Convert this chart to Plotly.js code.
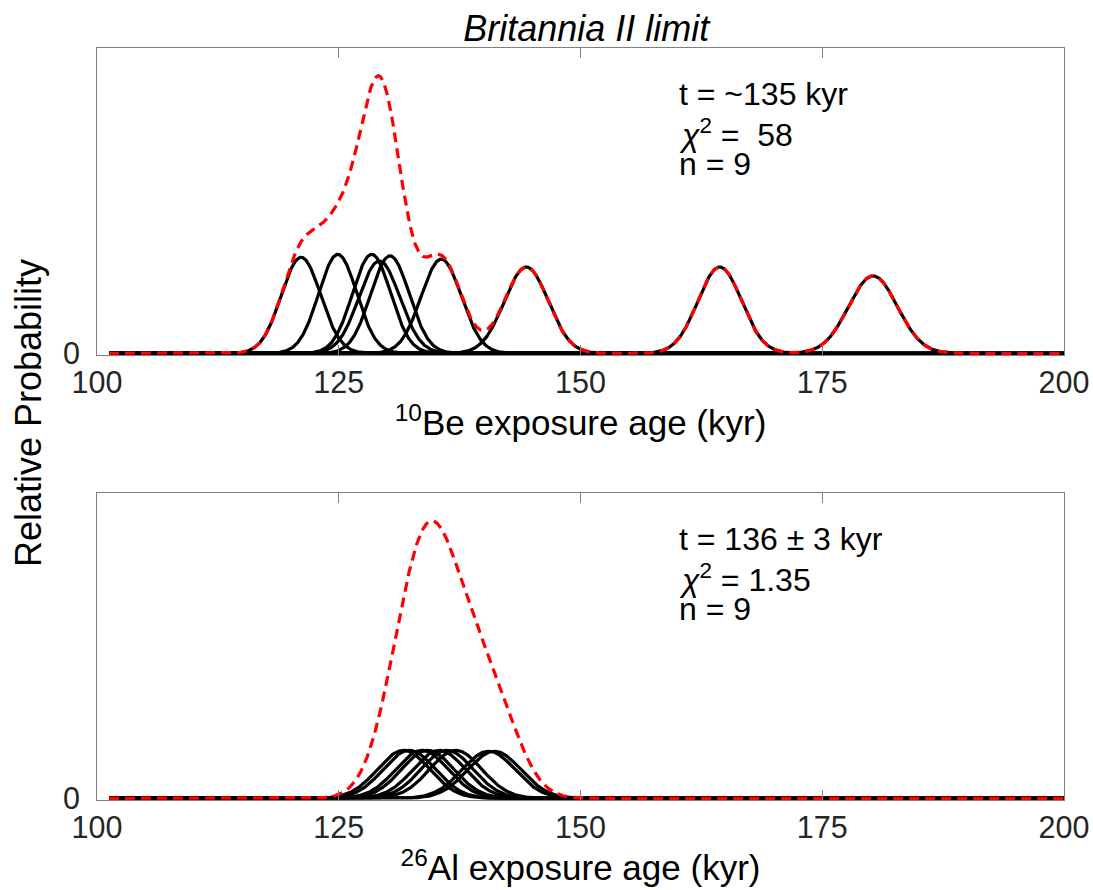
<!DOCTYPE html>
<html><head><meta charset="utf-8">
<script src="https://cdn.plot.ly/plotly-3.0.1.min.js"></script>
<style>body{margin:0;background:#fff}#chart{width:1093px;height:890px}</style>
</head><body><div id="chart"></div>
<script>
// 10Be exposure ages (kyr) and 1-sigma uncertainties
const be10Ages = [121.1, 124.9, 128.4, 129.2, 130.3, 135.6, 144.4, 164.4, 180.25];
const be10Errs = [2.03, 1.97, 1.97, 2.11, 2.0, 2.07, 2.26, 2.26, 2.52];
// 26Al exposure ages (kyr) and 1-sigma uncertainties
const al26Ages = [131.7, 132.3, 133.6, 134.2, 135.4, 136.2, 137.1, 140.5, 141.1];
const al26Errs = [2.7, 2.7, 2.7, 2.7, 2.7, 2.7, 2.7, 2.75, 2.75];
const xTicks = [100, 125, 150, 175, 200];
const xTickLabels = ['100', '125', '150', '175', '200'];
const titleText = '<i>Britannia II limit</i>';
const beStats = ['t = ~135 kyr', '<i>χ</i><sup>2</sup> = \u00a058', 'n = 9'];
const alStats = ['t = 136 ± 3 kyr', '<i>χ</i><sup>2</sup> = 1.35', 'n = 9'];

const xStart = 101.25, xEnd = 200, xStep = 0.05;
const grid = [];
for (let v = xStart; v <= xEnd + 1e-9; v += xStep) grid.push(+v.toFixed(4));

function pdf(mu, s) {
  return grid.map(x => Math.exp(-0.5 * ((x - mu) / s) ** 2) / (s * Math.sqrt(2 * Math.PI)));
}

const FONT = 'Liberation Sans, Arial, Helvetica, sans-serif';
const traces = [];
function addSet(ages, errs, xa, ya) {
  const curves = ages.map((a, i) => pdf(a, errs[i]));
  curves.forEach(c => traces.push({x: grid, y: c, xaxis: xa, yaxis: ya, mode: 'lines',
    line: {color: '#000', width: 3.2}, hoverinfo: 'skip', showlegend: false}));
  const sum = grid.map((_, j) => curves.reduce((acc, c) => acc + c[j], 0));
  traces.push({x: grid, y: sum, xaxis: xa, yaxis: ya, mode: 'lines',
    line: {color: '#ff0000', width: 3.2, dash: '10px,6px'}, hoverinfo: 'skip', showlegend: false});
  return Math.max(...sum);
}
const m1 = addSet(be10Ages, be10Errs, 'x', 'y');
const m2 = addSet(al26Ages, al26Errs, 'x2', 'y2');

const tickFont = {family: FONT, size: 30.5, color: '#262626'};
const axTitleFont = {family: FONT, size: 35, color: '#000'};
const axisCommon = {
  range: [100, 200], tickvals: xTicks, ticktext: xTickLabels, ticks: 'inside', ticklen: 10,
  tickcolor: '#808080', tickwidth: 1, showline: true, linecolor: '#808080', linewidth: 1,
  mirror: 'ticks', showgrid: false, zeroline: false, automargin: false,
  tickfont: tickFont
};
function yAxis(dom, m, anchor) {
  return {domain: dom, anchor: anchor, range: [-0.006 * m, 1.1 * m], tickvals: [0], ticktext: ['0'],
    ticks: '', showline: true, linecolor: '#808080', linewidth: 1, mirror: true,
    showgrid: false, zeroline: false, automargin: false, ticklabelstandoff: 10,
    tickfont: tickFont};
}

const annFont = {family: FONT, size: 32, color: '#000'};
const ann = [];
const lineY = [0.85, 0.722, 0.622];
beStats.forEach((t, i) => ann.push({text: t, xref: 'x', yref: 'y domain', x: 160, y: lineY[i],
  xanchor: 'left', yanchor: 'middle', showarrow: false, font: annFont}));
alStats.forEach((t, i) => ann.push({text: t, xref: 'x2', yref: 'y2 domain', x: 160, y: lineY[i],
  xanchor: 'left', yanchor: 'middle', showarrow: false, font: annFont}));
ann.push({text: 'Relative Probability', xref: 'paper', yref: 'paper', x: -0.071, y: 0.515,
  xanchor: 'center', yanchor: 'middle', textangle: -90, showarrow: false,
  font: {family: FONT, size: 36, color: '#000'}});

const layout = {
  width: 1093, height: 890,
  margin: {l: 97, r: 29, t: 48, b: 90},
  paper_bgcolor: '#fff', plot_bgcolor: '#fff',
  showlegend: false,
  title: {text: titleText, font: {family: FONT, size: 36, color: '#000'},
    xref: 'paper', x: 0.506, xanchor: 'center', yref: 'container', y: 1 - 28 / 890, yanchor: 'middle'},
  xaxis: Object.assign({}, axisCommon, {domain: [0, 1], anchor: 'y',
    title: {text: '<sup>10</sup>Be exposure age (kyr)', font: axTitleFont, standoff: 2}}),
  yaxis: yAxis([0.5918, 1], m1, 'x'),
  xaxis2: Object.assign({}, axisCommon, {domain: [0, 1], anchor: 'y2',
    title: {text: '<sup>26</sup>Al exposure age (kyr)', font: axTitleFont, standoff: 2}}),
  yaxis2: yAxis([0, 0.4082], m2, 'x2'),
  annotations: ann
};

Plotly.newPlot('chart', traces, layout, {staticPlot: true, displayModeBar: false});
</script>
</body></html>
